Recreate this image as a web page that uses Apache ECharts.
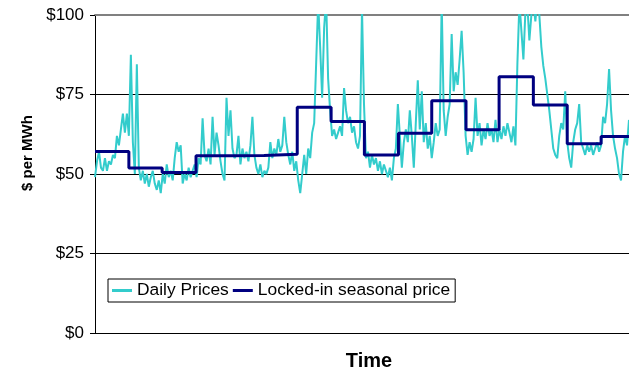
<!DOCTYPE html>
<html>
<head>
<meta charset="utf-8">
<script src="https://cdn.jsdelivr.net/npm/echarts@6/dist/echarts.min.js"></script>
<style>
  html, body { margin: 0; padding: 0; background: #fff; }
  #chart { width: 629px; height: 370px; }
</style>
</head>
<body>
<div id="chart"></div>
<script>
// Daily price samples, one value every sample step along the time axis ($/MWh)
const prices = [
  49, 54, 57, 52, 51, 55, 51, 54, 53, 56, 55,
  62, 59, 64, 69, 63, 69, 62, 87.5, 60, 50, 84.5,
  52, 48, 51, 47, 50, 46, 49, 51, 47, 45, 48, 44,
  50, 47, 53, 49, 51, 48, 55, 60, 57, 59,
  47, 50, 48, 52, 49, 51, 53, 49, 55, 53,
  67.5, 56, 54, 58, 53, 68, 56, 63, 59, 54, 50, 48, 74, 62,
  70, 58, 55, 56, 62, 53, 58, 55, 57, 54, 59, 68,
  56, 52, 50, 53, 49, 51, 50, 52, 60, 55, 58, 56, 61, 57, 59,
  68, 60, 56, 53, 57, 51, 54, 48, 44, 50, 56, 50, 58, 55, 63, 66,
  85, 104, 90, 74, 96, 105, 80, 70, 62, 64, 61, 63, 65, 62, 77, 70, 66, 68, 63, 65, 60, 58, 62, 102,
  72, 55, 57, 52, 56, 53, 55, 51, 54, 50, 53, 51, 49, 52, 48, 55, 58,
  72, 62, 52, 60, 64, 60, 70, 62, 52, 66, 79.5, 64, 76, 60, 66, 58, 62, 55, 60, 66, 62, 64,
  104, 70, 62, 68, 72, 94, 76, 82, 78, 86, 95, 82, 62, 56, 60, 57, 61, 74, 62, 66, 59, 64, 61, 66, 62, 64, 60, 67,
  60, 64, 61, 65, 62, 66, 63, 60, 65, 59,
  85, 104, 95, 86, 101, 103, 92, 100, 104, 98,
  105, 100, 90, 84, 80, 75, 70, 64, 58, 56,
  55, 62, 66, 64, 76, 60, 55, 52, 60, 64,
  66, 72, 60, 58, 56, 59, 57, 59, 56, 58,
  60, 57, 59, 68, 66, 72, 83, 70, 62, 58,
  55, 50, 48, 57, 62, 59, 67
];

// Start of each seasonal contract period (in sample steps) and its locked-in price
const seasonStarts = [0, 17, 33.7, 50.7, 67.3, 84.8, 101.5, 118.5, 135.2, 152.3, 169, 186.2, 202.8, 220, 237, 254];
const seasonPrices = [57.1, 51.9, 50.5, 55.7, 55.8, 56.2, 71.0, 66.5, 56.0, 62.8, 73.0, 63.9, 80.6, 71.7, 59.5, 61.8];
const timeEnd = prices.length - 1;

const yTicks = [0, 25, 50, 75, 100];

const dailySeries = prices.map((v, i) => [i, v]);
const lockedSeries = seasonStarts.map((s, i) => [s, seasonPrices[i]]);
lockedSeries.push([timeEnd, seasonPrices[seasonPrices.length - 1]]);

const font = 'Liberation Sans, Arial, sans-serif';

const chart = echarts.init(document.getElementById('chart'), null, { renderer: 'canvas' });
chart.setOption({
  animation: false,
  backgroundColor: '#fff',
  textStyle: { fontFamily: font, color: '#000' },
  grid: { left: 95, top: 15, right: 0, bottom: 37, containLabel: false, outerBoundsMode: 'none' },
  legend: {
    left: 108,
    top: 279,
    orient: 'horizontal',
    padding: [3, 5, 3, 4],
    itemGap: 4,
    itemWidth: 20,
    itemHeight: 3,
    icon: 'rect',
    borderColor: '#000',
    borderWidth: 1,
    borderRadius: 0,
    backgroundColor: '#fff',
    textStyle: { fontFamily: font, fontSize: 17.4, color: '#000' },
    data: ['Daily Prices', 'Locked-in seasonal price']
  },
  xAxis: [
    {
      type: 'value',
      min: 0,
      max: timeEnd,
      name: 'Time',
      nameLocation: 'middle',
      nameGap: 18,
      nameTextStyle: {
        fontFamily: font, fontSize: 20, fontWeight: 'bold', color: '#000',
        padding: [0, 0, 0, 14]
      },
      axisLine: { show: true, lineStyle: { color: '#000', width: 1 } },
      axisTick: { show: false },
      axisLabel: { show: false },
      splitLine: { show: false }
    },
    {
      type: 'value',
      position: 'top',
      min: 0,
      max: timeEnd,
      axisLine: { show: true, lineStyle: { color: '#808080', width: 2 } },
      axisTick: { show: false },
      axisLabel: { show: false },
      splitLine: { show: false }
    }
  ],
  yAxis: {
    type: 'value',
    min: yTicks[0],
    max: yTicks[yTicks.length - 1],
    interval: 25,
    name: '$ per MWh',
    nameLocation: 'middle',
    nameGap: 49,
    nameRotate: 90,
    nameTextStyle: {
      fontFamily: font,
      fontSize: 15,
      fontWeight: 'bold',
      color: '#000',
      padding: [0, 0, 0, 42]
    },
    axisLine: { show: true, lineStyle: { color: '#000', width: 1 } },
    axisTick: { show: true, length: 5, lineStyle: { color: '#000' } },
    axisLabel: {
      margin: 11,
      fontFamily: font,
      fontSize: 17,
      color: '#000',
      formatter: v => '$' + v
    },
    splitLine: { show: true, lineStyle: { color: '#000', width: 1 } }
  },
  series: [
    {
      name: 'Daily Prices',
      type: 'line',
      data: dailySeries,
      showSymbol: false,
      clip: true,
      color: '#33CCCC',
      lineStyle: { color: '#33CCCC', width: 2 },
      z: 2
    },
    {
      name: 'Locked-in seasonal price',
      type: 'line',
      step: 'end',
      data: lockedSeries,
      showSymbol: false,
      clip: true,
      color: '#000080',
      lineStyle: { color: '#000080', width: 3 },
      z: 3
    }
  ]
});
</script>
</body>
</html>
